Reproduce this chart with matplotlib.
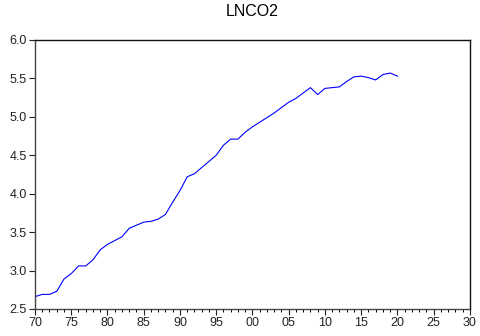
import numpy as np
import matplotlib
matplotlib.use("Agg")
import matplotlib.pyplot as plt
from matplotlib.ticker import MultipleLocator

plt.rcParams['font.family'] = ['Liberation Sans', 'DejaVu Sans']

years = list(range(1970, 2021))
lnco2 = [2.66, 2.69, 2.69, 2.73, 2.89, 2.96, 3.06, 3.06, 3.14, 3.27,
         3.34, 3.39, 3.44, 3.55, 3.59, 3.63, 3.64, 3.67, 3.73, 3.89,
         4.04, 4.22, 4.26, 4.34, 4.42, 4.50, 4.63, 4.71, 4.71, 4.80,
         4.87, 4.93, 4.99, 5.05, 5.12, 5.19, 5.24, 5.31, 5.38, 5.29,
         5.37, 5.38, 5.39, 5.46, 5.52, 5.53, 5.51, 5.48, 5.55, 5.57,
         5.53]
xtick_years = list(range(1970, 2031, 5))
xtick_labels = ['70', '75', '80', '85', '90', '95', '00', '05',
                '10', '15', '20', '25', '30']
yticks = [2.5, 3.0, 3.5, 4.0, 4.5, 5.0, 5.5, 6.0]

fig = plt.figure(figsize=(4.8, 3.36), dpi=100)
ax = fig.add_axes([0.0729, 0.0804, 0.906, 0.8006])

ax.plot(years, lnco2, color='#0000ff', lw=0.8)

ax.set_xlim(1970, 2030)
ax.set_ylim(2.5, 6.0)
ax.set_xticks(xtick_years)
ax.set_xticklabels(xtick_labels)
ax.xaxis.set_minor_locator(MultipleLocator(1))
ax.set_yticks(yticks)
ax.set_yticklabels([f'{v:.1f}' for v in yticks])

ax.tick_params(axis='both', which='major', direction='out', length=4,
               width=0.8, labelsize=9, colors='#222222', pad=2)
ax.tick_params(axis='x', which='minor', direction='out', length=2, width=0.7)
ax.tick_params(axis='y', which='minor', left=False)

for side in ['top', 'right']:
    ax.spines[side].set_color('#111111')
    ax.spines[side].set_linewidth(1.0)
for side in ['left', 'bottom']:
    ax.spines[side].set_color('#444444')
    ax.spines[side].set_linewidth(1.0)

ax.set_title('LNCO2', fontsize=11.5, pad=17)

fig.savefig('out.png', dpi=100)
